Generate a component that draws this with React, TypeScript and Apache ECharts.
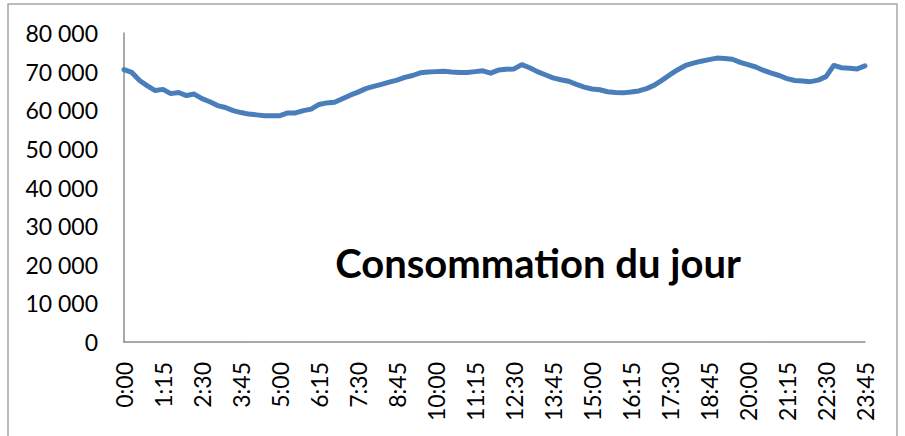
import React, { useEffect, useRef } from "react";
import * as echarts from "echarts";

const times: string[] = [];
for (let h = 0; h < 24; h++) {
  for (const m of ["00", "15", "30", "45"]) times.push(`${h}:${m}`);
}

const consommation = [
  70500, 69800, 67700, 66300, 65100, 65400, 64300, 64600, 63800, 64200,
  63000, 62200, 61200, 60700, 59900, 59400, 59000, 58800, 58600, 58600,
  58600, 59300, 59300, 59900, 60300, 61500, 61900, 62050, 63000, 63900,
  64700, 65600, 66200, 66700, 67300, 67800, 68500, 69000, 69700, 69900,
  70000, 70100, 69900, 69800, 69800, 70000, 70200, 69600, 70400, 70600,
  70700, 71800, 71000, 70000, 69200, 68400, 67900, 67500, 66700, 66000,
  65500, 65300, 64800, 64600, 64500, 64700, 65000, 65600, 66500, 67800,
  69200, 70500, 71600, 72200, 72700, 73100, 73500, 73400, 73200, 72400,
  71800, 71200, 70300, 69600, 69000, 68200, 67700, 67600, 67400, 67800,
  68700, 71600, 71000, 70900, 70700, 71500,
];

const yMin = 0;
const yMax = 80000;
const yStep = 10000;
const titleText = "Consommation du jour";

const fmt = (v: number) => {
  const s = String(Math.round(v));
  return s.replace(/\B(?=(\d{3})+(?!\d))/g, " ");
};

export default function App() {
  const ref = useRef<HTMLDivElement>(null);
  useEffect(() => {
    document.body.style.margin = "0";
    if (!ref.current) return;
    const chart = echarts.init(ref.current, undefined, { renderer: "svg" });
    const font = "Lato, 'Open Sans', sans-serif";
    chart.setOption({
      animation: false,
      backgroundColor: "#ffffff",
      grid: { left: 124, right: 40, top: 33, bottom: 94 },
      xAxis: {
        type: "category",
        data: times,
        boundaryGap: false,
        axisLine: { lineStyle: { color: "#8c8c8c", width: 1.5 } },
        axisTick: { show: false },
        axisLabel: {
          interval: 4,
          rotate: 90,
          margin: 20,
          color: "#000",
          fontFamily: font,
          fontSize: 23,
        },
        splitLine: { show: false },
      },
      yAxis: {
        type: "value",
        min: yMin,
        max: yMax,
        interval: yStep,
        axisLine: { show: true, lineStyle: { color: "#8c8c8c", width: 1.5 } },
        axisTick: { show: false },
        splitLine: { show: false },
        axisLabel: {
          margin: 26,
          color: "#000",
          fontFamily: font,
          fontSize: 23,
          formatter: (v: number) => fmt(v),
        },
      },
      graphic: [
        {
          type: "rect",
          shape: { x: 8, y: 4, width: 889, height: 500 },
          style: { fill: "none", stroke: "#a6a6a6", lineWidth: 1.5 },
          silent: true,
        },
        {
          type: "text",
          x: 538,
          y: 263,
          style: {
            text: titleText,
            fill: "#000",
            font: `bold 40px ${font}`,
            textAlign: "center",
            textVerticalAlign: "middle",
          },
        },
      ],
      series: [
        {
          type: "line",
          data: consommation,
          symbol: "none",
          lineStyle: { color: "#4a7ebb", width: 5, cap: "round", join: "round" },
        },
      ],
    });
    return () => chart.dispose();
  }, []);
  return <div ref={ref} style={{ width: 905, height: 436 }} />;
}
